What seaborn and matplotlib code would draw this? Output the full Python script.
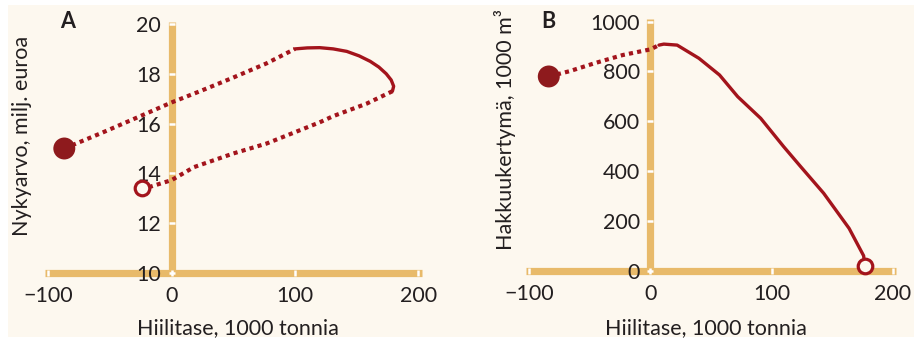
import matplotlib
matplotlib.use("Agg")
import matplotlib.pyplot as plt
from matplotlib.patches import Rectangle
import seaborn as sns
import pandas as pd

# ---------------- data ----------------
# Panel A: Hiilitase (x) vs Nykyarvo (y)
a_upper_x = [-87, -57, -30, 0, 23, 50, 77, 100]
a_upper_y = [15.0, 15.62, 16.2, 16.85, 17.3, 17.85, 18.42, 19.0]
a_solid_x = [100, 110, 120, 131, 142, 152, 161, 168, 174, 178, 180, 179]
a_solid_y = [19.0, 19.04, 19.05, 19.0, 18.9, 18.72, 18.5, 18.27, 18.0, 17.75, 17.5, 17.3]
a_lower_x = [179, 158, 131, 120, 77, 50, 18, 0, -17, -24]
a_lower_y = [17.3, 16.8, 16.3, 16.05, 15.2, 14.8, 14.25, 13.73, 13.47, 13.4]

# Panel B: Hiilitase (x) vs Hakkuukertymä (y)
b_dotted_x = [-84, -67, -45, -23, 0, 7]
b_dotted_y = [780, 801, 835, 866, 889, 906]
b_solid_x = [7, 11, 22, 40, 57, 72, 91, 110, 124, 143, 164, 176, 177]
b_solid_y = [906, 910, 906, 853, 786, 699, 612, 498, 418, 311, 170, 60, 20]

a_xticks = [-100, 0, 100, 200]
a_yticks = [10, 12, 14, 16, 18, 20]
b_xticks = [-100, 0, 100, 200]
b_yticks = [0, 200, 400, 600, 800, 1000]

xlabel = "Hiilitase, 1000 tonnia"
a_ylabel = "Nykyarvo, milj. euroa"
b_ylabel = "Hakkuukertymä, 1000 m³"

# ---------------- style ----------------
sns.set_theme(style="white")
plt.rcParams["font.family"] = ["Lato", "DejaVu Sans"]

CREAM = "#FDF8EF"
ORANGE = "#E8BA6A"
RED = "#A3141C"
DARKRED = "#8E1A1D"
TEXT = "#231F20"
FS = 15.5

fig = plt.figure(figsize=(9.14, 3.4), dpi=100)
fig.patch.set_facecolor("white")
fig.add_artist(Rectangle((8 / 914, 3 / 340), 1 - 8 / 914, 332 / 340,
                         transform=fig.transFigure, facecolor=CREAM,
                         edgecolor="none", zorder=-10))

axA = fig.add_axes([0.04606, 0.16044, 0.41838, 0.80559])
axB = fig.add_axes([0.57259, 0.16721, 0.41072, 0.80559])

dot_style = dict(color=RED, linewidth=3.0, linestyle=(0, (1, 1)),
                 dash_capstyle="butt", zorder=4)
solid_style = dict(color=RED, linewidth=2.4, linestyle="-",
                   solid_capstyle="round", zorder=4)


def draw_line(ax, xs, ys, style):
    df = pd.DataFrame({"x": xs, "y": ys})
    sns.lineplot(data=df, x="x", y="y", sort=False, estimator=None,
                 ax=ax, legend=False, **style)


# Panel A
draw_line(axA, a_upper_x, a_upper_y, dot_style)
draw_line(axA, a_solid_x, a_solid_y, solid_style)
draw_line(axA, a_lower_x, a_lower_y, dot_style)
sns.scatterplot(x=[a_upper_x[0]], y=[a_upper_y[0]], ax=axA, s=250,
                color=DARKRED, edgecolor="none", zorder=5, legend=False)
sns.scatterplot(x=[a_lower_x[-1]], y=[a_lower_y[-1]], ax=axA, s=110,
                facecolor=CREAM, edgecolor=RED, linewidth=2.3, zorder=5,
                legend=False)

# Panel B
draw_line(axB, b_dotted_x, b_dotted_y, dot_style)
draw_line(axB, b_solid_x, b_solid_y, solid_style)
sns.scatterplot(x=[b_dotted_x[0]], y=[b_dotted_y[0]], ax=axB, s=250,
                color=DARKRED, edgecolor="none", zorder=5, legend=False)
sns.scatterplot(x=[b_solid_x[-1]], y=[b_solid_y[-1]], ax=axB, s=110,
                facecolor=CREAM, edgecolor=RED, linewidth=2.3, zorder=5,
                legend=False)


def style_axes(ax, xlim, ylim, xticks, yticks, ybase, ytop, ylabel,
               xlab_coords, ylab_coords):
    ax.set_facecolor("none")
    ax.set_axisbelow(False)
    ax.set_xlim(*xlim)
    ax.set_ylim(*ylim)
    ax.set_xticks(xticks)
    ax.set_yticks(yticks)
    ax.set_xticklabels([str(t).replace("-", "\u2212") for t in xticks])
    ax.set_yticklabels([str(t) for t in yticks])
    for side in ["top", "right"]:
        ax.spines[side].set_visible(False)
    ax.spines["left"].set_position(("data", 0))
    ax.spines["bottom"].set_position(("data", ybase))
    for side in ["left", "bottom"]:
        sp = ax.spines[side]
        sp.set_color(ORANGE)
        sp.set_linewidth(5.2)
        sp.set_capstyle("butt")
        sp.set_zorder(2)
    ax.spines["left"].set_bounds(ybase, ytop)
    ax.spines["bottom"].set_bounds(-103, 203)
    ax.tick_params(axis="both", direction="inout", length=5, width=1.8,
                   color="white", labelsize=FS, labelcolor=TEXT,
                   bottom=True, left=True, top=False, right=False)
    ax.tick_params(axis="y", pad=5)
    ax.tick_params(axis="x", pad=7)
    ax.xaxis.set_zorder(3)
    ax.yaxis.set_zorder(3)
    ax.set_xlabel(xlabel, fontsize=FS, color=TEXT)
    ax.set_ylabel(ylabel, fontsize=FS, color=TEXT)
    ax.xaxis.set_label_coords(*xlab_coords)
    ax.yaxis.set_label_coords(*ylab_coords)
    ax.yaxis.label.set_verticalalignment("center")
    ax.grid(False)


style_axes(axA, (-105, 205), (9.5, 20.5), a_xticks, a_yticks, 10, 20.1,
           a_ylabel, (0.512, -0.118), (-0.0526, 0.5456))
style_axes(axB, (-105, 205), (-50, 1050), b_xticks, b_yticks, 0, 1010,
           b_ylabel, (0.4865, -0.126), (-0.0489, 0.559))

fig.text(68 / 914, 1 - 22 / 340, "A", ha="center", va="center",
         fontsize=FS, fontweight="bold", color=TEXT)
fig.text(548 / 914, 1 - 22 / 340, "B", ha="center", va="center",
         fontsize=FS, fontweight="bold", color=TEXT)

fig.savefig("out.png", dpi=100, facecolor=fig.get_facecolor())
